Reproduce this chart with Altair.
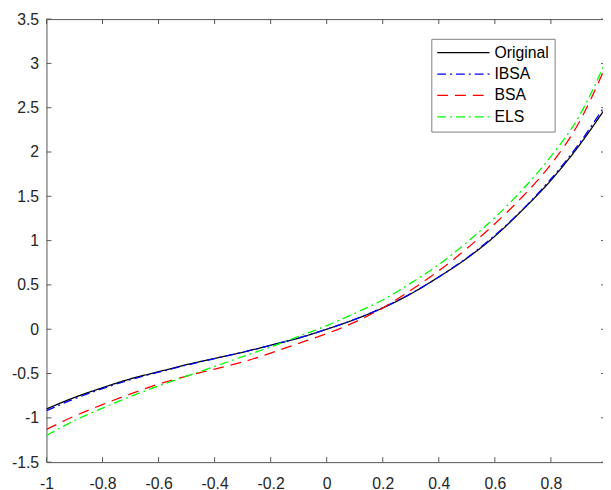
import altair as alt
import pandas as pd

# ---- data ----
x_vals = [-1.0, -0.9, -0.8, -0.7, -0.6, -0.5, -0.4, -0.3, -0.2, -0.1, 0.0,
          0.1, 0.2, 0.3, 0.4, 0.5, 0.6, 0.7, 0.8, 0.9, 1.0]
original = [-0.90, -0.77, -0.66, -0.56, -0.48, -0.40, -0.33, -0.26, -0.18, -0.10, 0.00,
            0.11, 0.24, 0.40, 0.59, 0.80, 1.05, 1.35, 1.68, 2.07, 2.52]
ibsa = [-0.92, -0.785, -0.67, -0.57, -0.485, -0.405, -0.332, -0.26, -0.182, -0.098, 0.00,
        0.112, 0.243, 0.40, 0.59, 0.805, 1.06, 1.355, 1.695, 2.09, 2.56]
bsa = [-1.13, -0.98, -0.85, -0.73, -0.62, -0.53, -0.45, -0.37, -0.27, -0.16, -0.05,
       0.08, 0.24, 0.44, 0.66, 0.91, 1.19, 1.50, 1.86, 2.33, 3.00]
els = [-1.20, -1.03, -0.89, -0.76, -0.64, -0.53, -0.42, -0.31, -0.20, -0.08, 0.04,
       0.18, 0.33, 0.52, 0.73, 0.98, 1.26, 1.58, 1.95, 2.40, 3.05]

series_names = ["Original", "IBSA", "BSA", "ELS"]
series_colors = ["#000000", "#0000ff", "#ff0000", "#00ff00"]
series_dashes = [[1, 0], [9, 4, 2, 4], [11, 7], [9, 4, 2, 4]]

x_ticks = [-1, -0.8, -0.6, -0.4, -0.2, 0, 0.2, 0.4, 0.6, 0.8]
y_ticks = [-1.5, -1, -0.5, 0, 0.5, 1, 1.5, 2, 2.5, 3, 3.5]

# ---- tables ----
rows = []
for name, vals in zip(series_names, [original, ibsa, bsa, els]):
    for xv, yv in zip(x_vals, vals):
        rows.append({"x": xv, "y": yv, "series": name})
df = pd.DataFrame(rows)
xt_df = pd.DataFrame({"xt": x_ticks})
yt_df = pd.DataFrame({"yt": y_ticks})

W, H = 564, 449
TICK = 5
AXIS_COLOR = "#555555"
FONT = "Liberation Sans"

xscale = alt.Scale(domain=[-1, 0.986], nice=False, zero=False)
yscale = alt.Scale(domain=[-1.5, 3.5], nice=False, zero=False)

lines = alt.Chart(df).mark_line(strokeWidth=1.3, clip=True, interpolate="monotone").encode(
    x=alt.X("x:Q", scale=xscale,
            axis=alt.Axis(values=x_ticks, labelExpr="'' + datum.value", title=None,
                          orient="bottom", labelPadding=14, labelFlush=False)),
    y=alt.Y("y:Q", scale=yscale,
            axis=alt.Axis(values=y_ticks, labelExpr="'' + datum.value", title=None,
                          orient="left", labelPadding=8, labelFlush=False)),
    color=alt.Color("series:N", sort=series_names,
                    scale=alt.Scale(domain=series_names, range=series_colors),
                    legend=alt.Legend(title=None)),
    strokeDash=alt.StrokeDash("series:N", sort=series_names,
                              scale=alt.Scale(domain=series_names, range=series_dashes),
                              legend=alt.Legend(title=None)),
)

tick_style = dict(color=AXIS_COLOR, strokeWidth=1)

bottom_ticks = alt.Chart(xt_df).mark_rule(**tick_style).encode(
    x=alt.X("xt:Q", scale=xscale, axis=None),
    y=alt.value(H), y2=alt.value(H - TICK))
top_ticks = alt.Chart(xt_df).mark_rule(**tick_style).encode(
    x=alt.X("xt:Q", scale=xscale,
            axis=alt.Axis(orient="top", labels=False, ticks=False, domain=True, title=None)),
    y=alt.value(0), y2=alt.value(TICK))
left_ticks = alt.Chart(yt_df).mark_rule(**tick_style).encode(
    y=alt.Y("yt:Q", scale=yscale, axis=None),
    x=alt.value(0), x2=alt.value(TICK))
right_ticks = alt.Chart(yt_df).mark_rule(**tick_style).encode(
    y=alt.Y("yt:Q", scale=yscale, axis=None),
    x=alt.value(W + 3), x2=alt.value(W + 3 - TICK))

chart = alt.layer(lines, bottom_ticks, top_ticks, left_ticks, right_ticks).resolve_axis(
    x="independent", y="independent"
).properties(
    width=W, height=H,
    autosize=alt.AutoSizeParams(type="none"),
    padding={"left": 39, "top": 8, "right": 0, "bottom": 25},
    background="white",
).configure_view(stroke=None).configure_axis(
    grid=False, ticks=False, domainColor=AXIS_COLOR, domainWidth=1,
    labelFont=FONT, labelFontSize=16, labelColor="#262626",
).configure_legend(
    orient="none", legendX=390, legendY=20, padding=5,
    strokeColor="#808080", fillColor="white", cornerRadius=0,
    symbolType="stroke", symbolSize=2809, symbolStrokeWidth=1.3,
    clipHeight=18, rowPadding=3.7, labelOffset=4,
    labelFont=FONT, labelFontSize=16, labelColor="#000000",
)

chart.save("out.html", embed_options={"renderer": "svg", "actions": False})
